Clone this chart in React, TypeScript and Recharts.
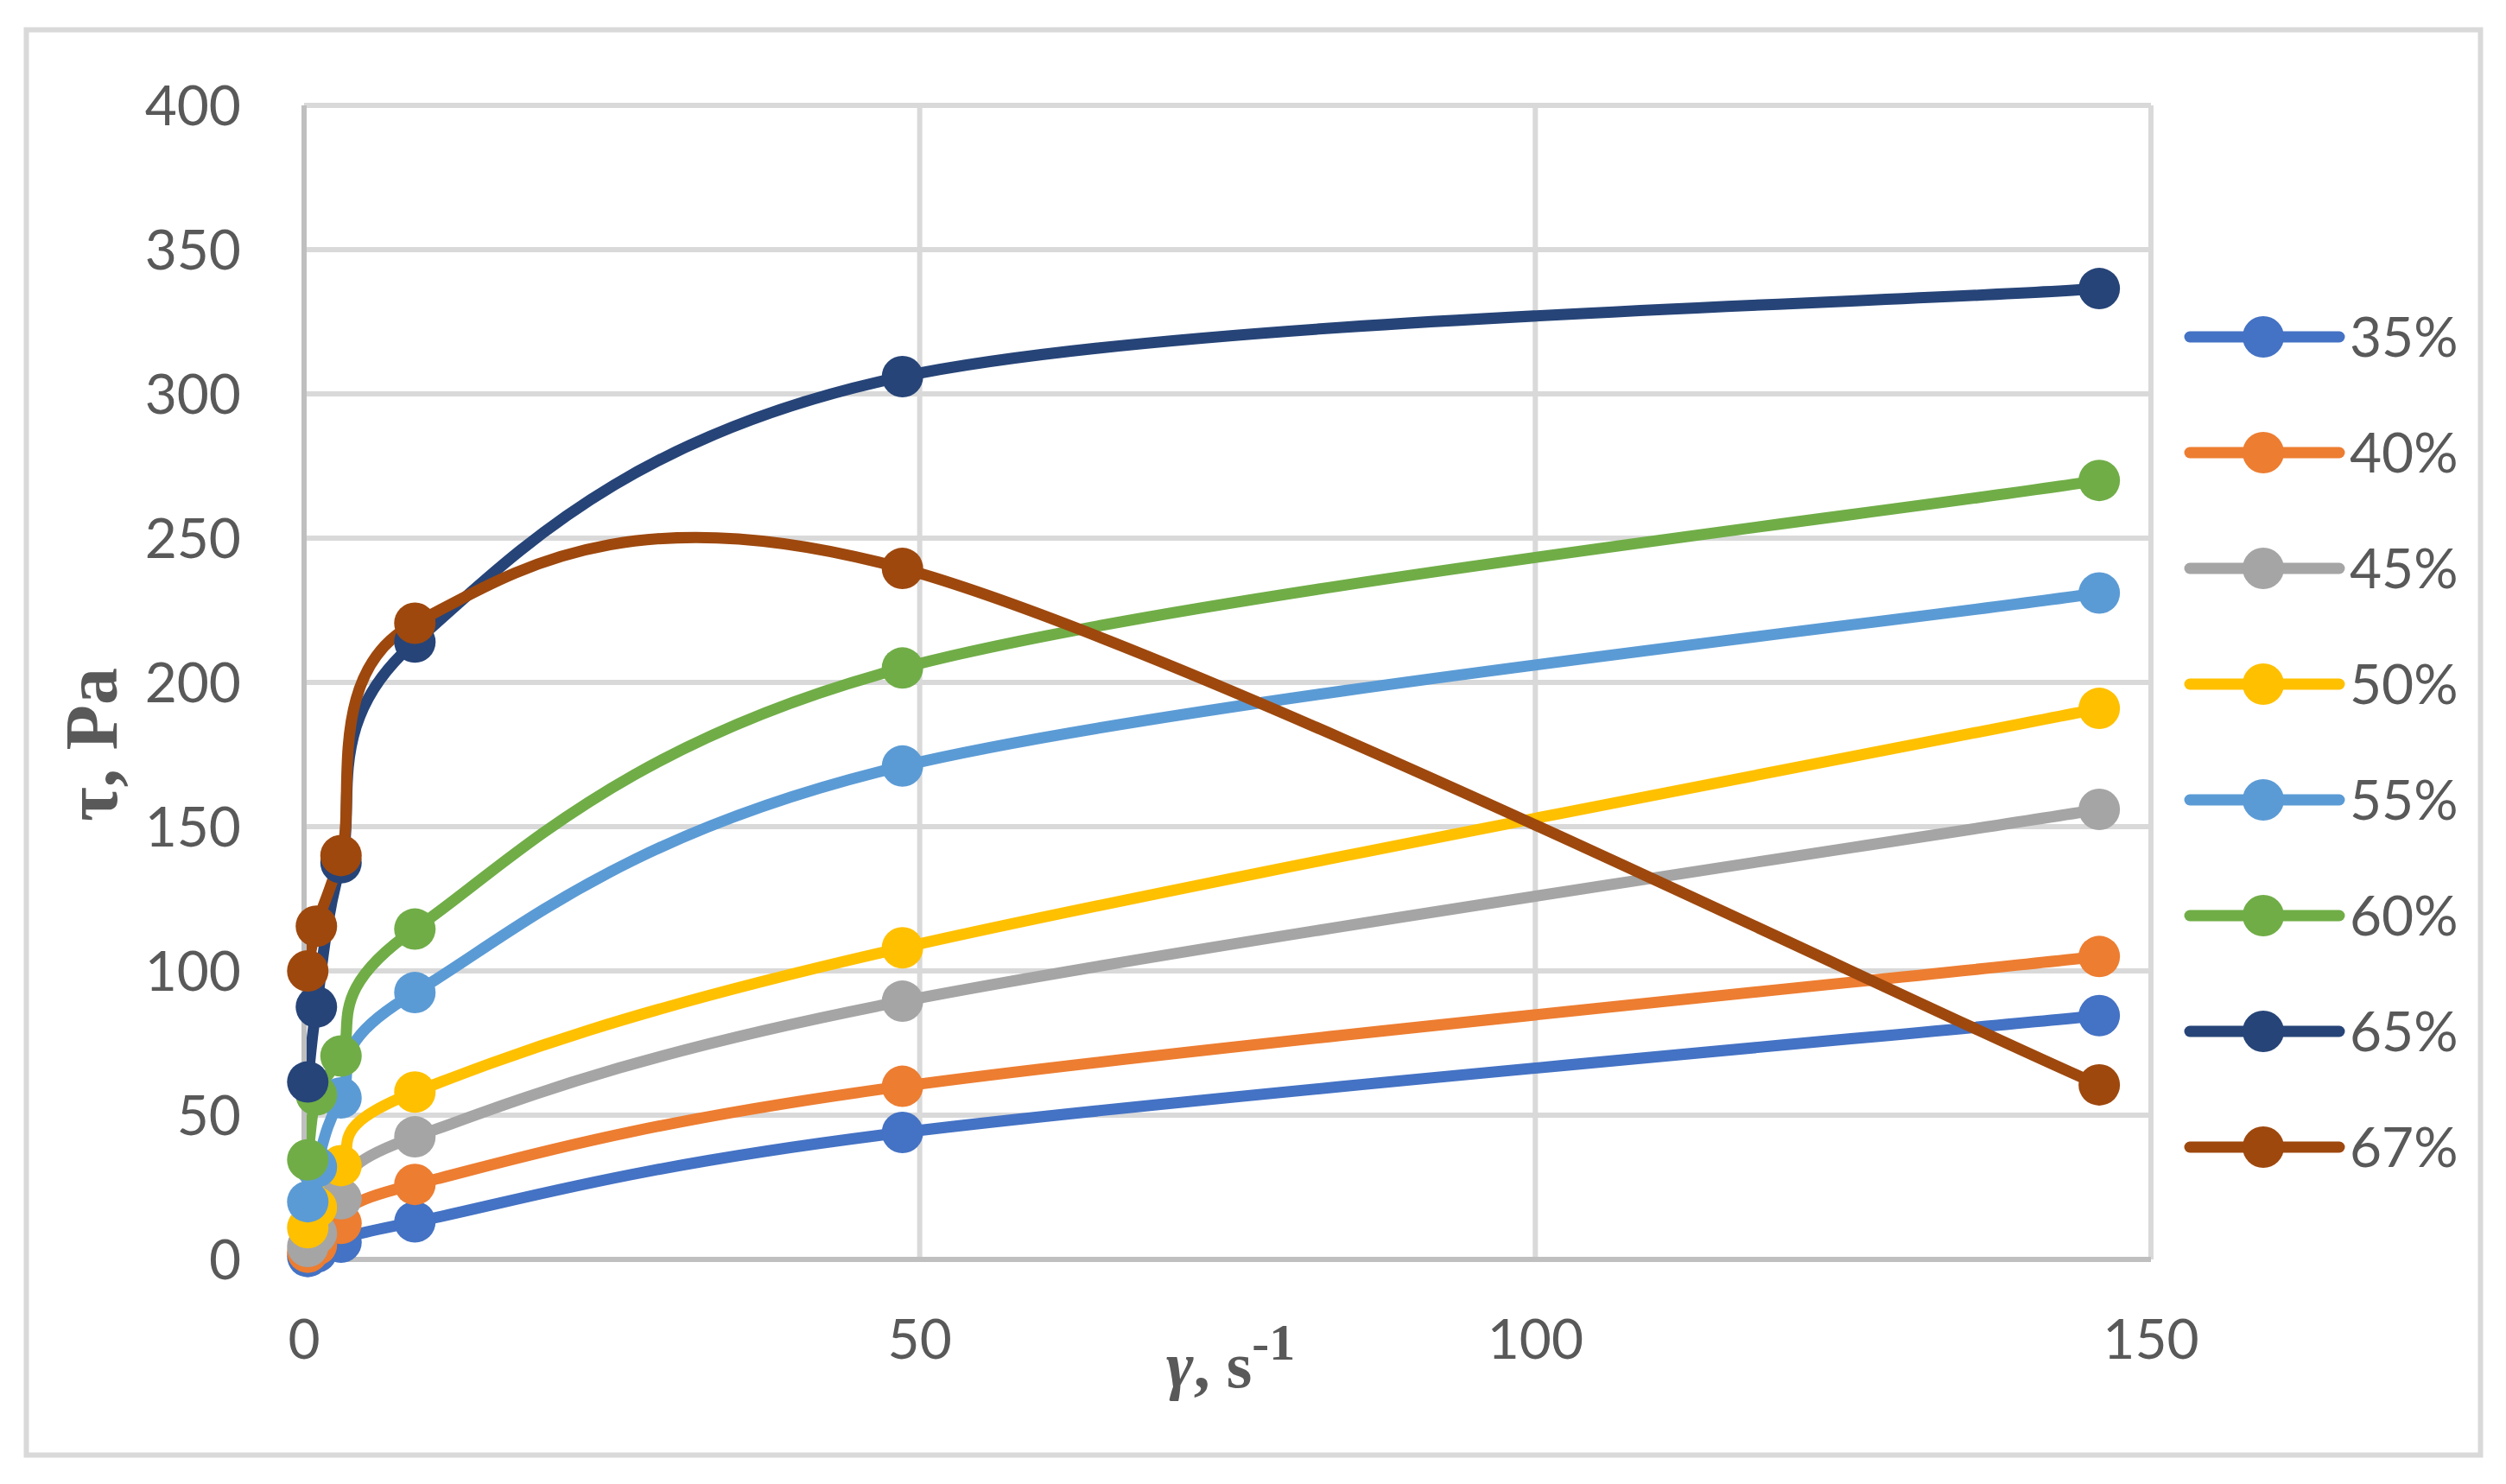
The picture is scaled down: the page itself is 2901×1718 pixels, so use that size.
import { LineChart, Line, XAxis, YAxis, CartesianGrid } from 'recharts'

// shear rate, 1/s
const shearRates = [0.3, 1, 3, 9, 48.6, 145.8]

// shear stress, Pa, for each solids concentration
const tau35 = [1, 2.5, 6, 13, 44, 84.5]
const tau40 = [2.5, 5, 12.5, 26, 60, 105]
const tau45 = [4.5, 9, 21, 42.5, 89.5, 156]
const tau50 = [11, 18, 32.5, 58, 108, 191]
const tau55 = [20, 32, 56, 92.5, 171, 231]
const tau60 = [34.5, 57, 70.5, 114.5, 205, 270]
const tau65 = [61.5, 87.5, 137.5, 214, 306, 336.5]
const tau67 = [100, 115.5, 140, 220.5, 239.5, 60.5]

const xTicks = [0, 50, 100, 150]
const yTicks = [0, 50, 100, 150, 200, 250, 300, 350, 400]

const series = [
  { key: 'c35', name: '35%', color: '#4472C4', values: tau35 },
  { key: 'c40', name: '40%', color: '#ED7D31', values: tau40 },
  { key: 'c45', name: '45%', color: '#A5A5A5', values: tau45 },
  { key: 'c50', name: '50%', color: '#FFC000', values: tau50 },
  { key: 'c55', name: '55%', color: '#5B9BD5', values: tau55 },
  { key: 'c60', name: '60%', color: '#70AD47', values: tau60 },
  { key: 'c65', name: '65%', color: '#264478', values: tau65 },
  { key: 'c67', name: '67%', color: '#9E480E', values: tau67 },
]

const rows = shearRates.map((x, i) => {
  const row: Record<string, number> = { x }
  series.forEach((s) => { row[s.key] = s.values[i] })
  return row
})

// spreadsheet-style smoothing: cubic bezier through every point,
// control points taken from the neighbours (catmull-rom, 1/6)
const smoothCurve = (context: any) => {
  let pts: [number, number][] = []
  return {
    areaStart() {},
    areaEnd() {},
    lineStart() { pts = [] },
    lineEnd() {
      const n = pts.length
      if (!n) return
      context.moveTo(pts[0][0], pts[0][1])
      for (let i = 0; i < n - 1; i++) {
        const p0 = pts[Math.max(i - 1, 0)]
        const p1 = pts[i]
        const p2 = pts[i + 1]
        const p3 = pts[Math.min(i + 2, n - 1)]
        context.bezierCurveTo(
          p1[0] + (p2[0] - p0[0]) / 6, p1[1] + (p2[1] - p0[1]) / 6,
          p2[0] - (p3[0] - p1[0]) / 6, p2[1] - (p3[1] - p1[1]) / 6,
          p2[0], p2[1],
        )
      }
    },
    point(x: number, y: number) { pts.push([+x, +y]) },
  }
}

const W = 2901
const H = 1718
const TEXT = '#595959'
const tickFont = { fill: TEXT, fontSize: 64, fontFamily: 'Lato, sans-serif' }

export default function App() {
  return (
    <div style={{ position: 'absolute', left: 0, top: 0, width: W, height: H, background: '#fff' }}>
      <LineChart width={W} height={H} data={rows} margin={{ top: 122, right: 411, bottom: 200, left: 252 }}>
        <CartesianGrid stroke="#d9d9d9" strokeWidth={6} />
        <XAxis
          dataKey="x" type="number" domain={[0, 150]} ticks={xTicks}
          height={60} tickSize={0} tickMargin={70} tickLine={false}
          axisLine={{ stroke: '#bfbfbf', strokeWidth: 6 }} tick={tickFont}
        />
        <YAxis
          type="number" domain={[0, 400]} ticks={yTicks}
          width={100} tickSize={0} tickMargin={73} tickLine={false}
          axisLine={{ stroke: '#bfbfbf', strokeWidth: 6 }} tick={tickFont}
        />
        {series.map((s) => (
          <Line
            key={s.key} dataKey={s.key} name={s.name} type={smoothCurve as any}
            stroke={s.color} strokeWidth={13} strokeLinecap="round"
            dot={{ r: 24, fill: s.color, stroke: 'none', strokeWidth: 0 }}
            activeDot={false} isAnimationActive={false}
          />
        ))}
      </LineChart>

      <svg width={W} height={H} style={{ position: 'absolute', left: 0, top: 0, pointerEvents: 'none' }}>
        <rect x={30.5} y={34.5} width={2841} height={1650} fill="none" stroke="#d9d9d9" strokeWidth={6} />

        <text
          transform="translate(135,862) rotate(-90)" textAnchor="middle"
          fontFamily="'Liberation Serif', serif" fontWeight="bold" fontSize={86} fill={TEXT}
        >
          τ, Pa
        </text>

        <text x={1350} y={1606} fontFamily="'Liberation Serif', serif" fontWeight="bold" fontSize={76} fill={TEXT}>
          <tspan fontStyle="italic">γ</tspan>, s<tspan fontSize={60} dy={-32}>-1</tspan>
        </text>

        {series.map((s, i) => {
          const y = 390 + i * 134
          return (
            <g key={s.key}>
              <line x1={2535} x2={2708} y1={y} y2={y} stroke={s.color} strokeWidth={13} strokeLinecap="round" />
              <circle cx={2620} cy={y} r={24} fill={s.color} />
              <text x={2720} y={y + 23} fontFamily="Lato, sans-serif" fontSize={64} fill={TEXT}>{s.name}</text>
            </g>
          )
        })}
      </svg>
    </div>
  )
}
